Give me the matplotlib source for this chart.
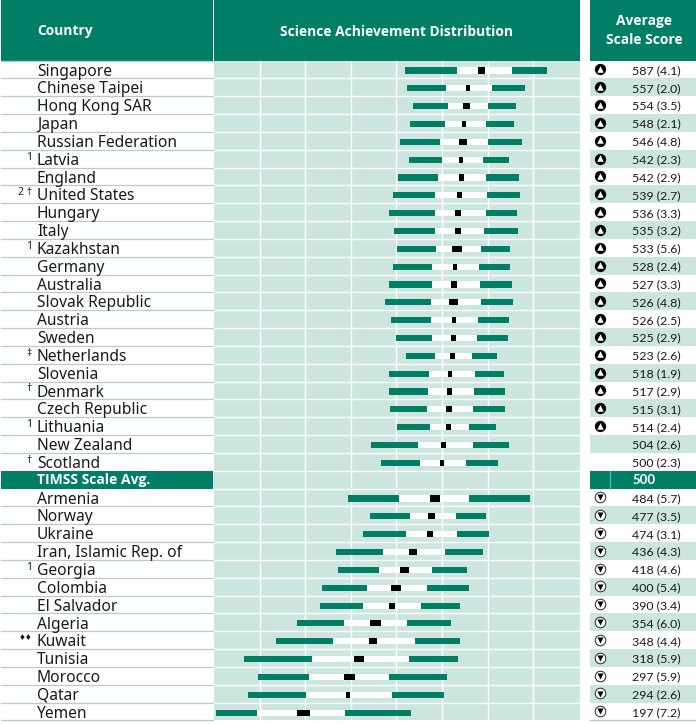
import matplotlib
matplotlib.use("Agg")
import numpy as np
import matplotlib.pyplot as plt
from matplotlib.patches import Rectangle

plt.rcParams['font.family'] = ['Noto Sans', 'DejaVu Sans']

countries = ["Singapore", "Chinese Taipei", "Hong Kong SAR", "Japan", "Russian Federation", "Latvia",
             "England", "United States", "Hungary", "Italy", "Kazakhstan", "Germany", "Australia",
             "Slovak Republic", "Austria", "Sweden", "Netherlands", "Slovenia", "Denmark",
             "Czech Republic", "Lithuania", "New Zealand", "Scotland", "TIMSS Scale Avg.",
             "Armenia", "Norway", "Ukraine", "Iran, Islamic Rep. of", "Georgia", "Colombia",
             "El Salvador", "Algeria", "Kuwait", "Tunisia", "Morocco", "Qatar", "Yemen"]
notes = ["", "", "", "", "", "1", "", "2 †", "", "", "1", "", "", "", "", "", "‡", "", "†", "", "1",
         "", "†", "", "", "", "", "", "1", "", "", "", "♦♦", "", "", "", ""]
means = [587, 557, 554, 548, 546, 542, 542, 539, 536, 535, 533, 528, 527, 526, 526, 525, 523, 518,
         517, 515, 514, 504, 500, 500, 484, 477, 474, 436, 418, 400, 390, 354, 348, 318, 297, 294, 197]
errors = [4.1, 2.0, 3.5, 2.1, 4.8, 2.3, 2.9, 2.7, 3.3, 3.2, 5.6, 2.4, 3.3, 4.8, 2.5, 2.9, 2.6, 1.9,
          2.9, 3.1, 2.4, 2.6, 2.3, None, 5.7, 3.5, 3.1, 4.3, 4.6, 5.4, 3.4, 6.0, 4.4, 5.9, 5.9, 2.6, 7.2]
# percentiles, no bar for the scale average row
p5 = [419, 423, 436, 430, 408, 428, 404, 393, 384, 395, 401, 393, 384, 375, 388, 399, 421, 384,
      384, 386, 401, 344, 366, None, 294, 342, 327, 268, 272, 237, 232, 182, 136, 66, 96, 75, 4]
p25 = [533, 509, 513, 507, 496, 500, 491, 485, 485, 485, 487, 478, 478, 476, 476, 478, 485, 471,
       469, 467, 474, 447, 452, None, 406, 430, 421, 371, 362, 336, 327, 285, 261, 215, 208, 202, 94]
p75 = [654, 610, 601, 596, 601, 590, 596, 599, 596, 592, 586, 581, 583, 586, 579, 577, 566, 572,
       570, 568, 559, 568, 553, None, 559, 531, 533, 507, 478, 467, 454, 423, 441, 428, 384, 390, 287]
p95 = [730, 682, 662, 658, 675, 647, 669, 671, 664, 667, 649, 649, 654, 656, 647, 645, 621, 636,
       638, 638, 618, 647, 623, None, 693, 596, 603, 590, 555, 559, 539, 520, 539, 535, 511, 504, 432]
# 1 = above the scale average, -1 = below, 0 = no difference
signif = [1] * 21 + [0, 0, 0] + [-1] * 13
grid_ticks = [100, 200, 300, 400, 500, 600, 700]

GREEN = '#007F66'
TINT = '#CCE5DF'
LINE = '#B4CFC8'
TEXT = '#1A1A1A'
BOLD = ['Open Sans', 'DejaVu Sans']
NARROW = ['Lato', 'DejaVu Sans']

W, H = 696, 724
TOP, BOTTOM = 60.5, 720.4
n = len(countries)
rh = (BOTTOM - TOP) / n
avg_row = countries.index("TIMSS Scale Avg.")

fig = plt.figure(figsize=(W / 100, H / 100), dpi=100, facecolor='white')

# page axes in pixels, for the table around the chart
page = fig.add_axes([0, 0, 1, 1])
page.set_xlim(0, W)
page.set_ylim(H, 0)
page.axis('off')

page.add_patch(Rectangle((1, 0), 212, TOP, color=GREEN, lw=0))
page.add_patch(Rectangle((214, 0), 366, TOP, color=GREEN, lw=0))
page.add_patch(Rectangle((590, 0), 106, TOP, color=GREEN, lw=0))
head = dict(color='white', fontsize=9.9, fontweight='bold', va='center', family=BOLD)
page.text(37, 31.5, "Country", **head)
page.text(397, 31.5, "Science Achievement Distribution", ha='center', **head)
page.text(644, 21.5, "Average", ha='center', **head)
page.text(644, 40.5, "Scale Score", ha='center', **head)

for i in range(n):
    top = TOP + i * rh
    mid = top + rh / 2
    if i == avg_row:
        page.add_patch(Rectangle((1, top), 212, rh, color=GREEN, lw=0))
        page.add_patch(Rectangle((590, top), 106, rh, color=GREEN, lw=0))
        page.plot([610, 610], [top, top + rh], color='#6FB5A5', lw=0.8)
        page.text(37, mid + 0.8, countries[i], color='white', fontsize=10, fontweight='bold', va='center', family=BOLD)
        page.text(632, mid + 0.8, str(means[i]), color='white', fontsize=9.5, fontweight='bold', va='center', family=NARROW)
        continue
    if i % 2 == 1:
        page.add_patch(Rectangle((590, top), 106, rh, color=TINT, lw=0))
    page.text(37, mid + 2.2, countries[i], color=TEXT, fontsize=11.2, va='center')
    if notes[i]:
        size = 5.5 if notes[i] == "♦♦" else 7.5
        page.text(32, mid - 1.5, notes[i], color=TEXT, fontsize=size, va='center', ha='right')
    page.text(632, mid + 1.2, "%d (%.1f)" % (means[i], errors[i]), color=TEXT, fontsize=8.9, va='center', family=NARROW)
    if signif[i] == 1:
        page.scatter(600, mid, s=66, marker='o', color='black', lw=0)
        page.scatter(600, mid - 0.3, s=22, marker='^', color='white', lw=0)
    elif signif[i] == -1:
        page.scatter(600, mid - 0.3, s=58, marker='o', facecolor='white', edgecolor='#222222', lw=0.7)
        page.scatter(600, mid, s=19, marker='v', color='black', lw=0)

for i in range(n + 1):
    y = TOP + i * rh
    if i != avg_row and i != avg_row + 1:
        page.plot([1, 213], [y, y], color=LINE, lw=0.9)
page.plot([590, 696], [BOTTOM, BOTTOM], color=LINE, lw=0.9)

# chart panel, scale is 0.456 px per score point
chart = fig.add_axes([214 / W, 1 - BOTTOM / H, 366 / W, (BOTTOM - TOP) / H])
chart.set_facecolor(TINT)
chart.set_xlim(0, 366 / 0.456)
chart.set_ylim(n, 0)
for s in chart.spines.values():
    s.set_visible(False)
chart.set_xticks([])
chart.set_yticks([])
for t in grid_ticks:
    chart.axvline(t, color='white', lw=1, zorder=1)
for i in range(1, n):
    chart.axhline(i, color='white', lw=1, zorder=1)

for i in range(n):
    if p5[i] is None:
        continue
    y = i + 0.56
    chart.barh(y, p25[i] - p5[i], left=p5[i], height=0.34, color=GREEN, lw=0, zorder=2)
    chart.barh(y, p75[i] - p25[i], left=p25[i], height=0.34, color='white', lw=0, zorder=2)
    chart.barh(y, p95[i] - p75[i], left=p75[i], height=0.34, color=GREEN, lw=0, zorder=2)
    chart.barh(y, 4 * errors[i], left=means[i] - 2 * errors[i], height=0.34, color='black', lw=0, zorder=3)

fig.savefig("out.png", dpi=100)
